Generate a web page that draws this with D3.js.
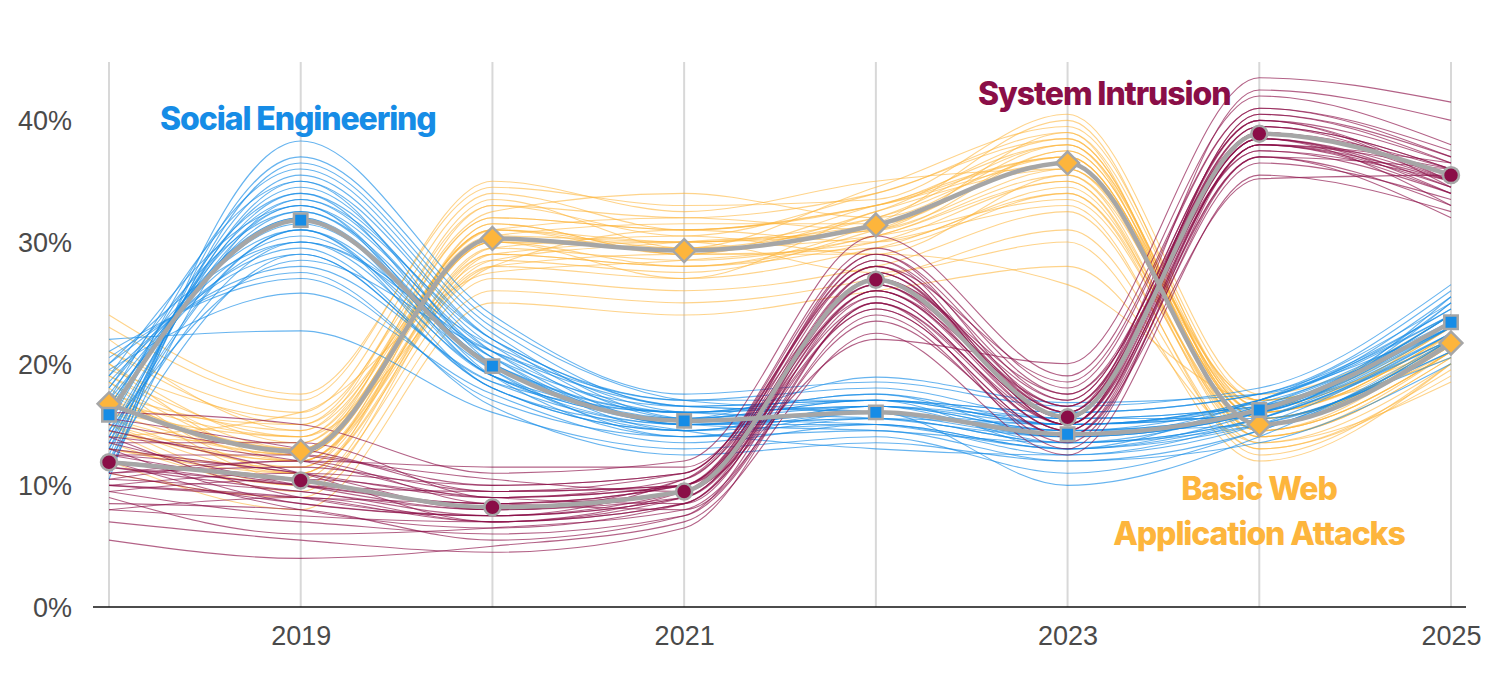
<!DOCTYPE html>
<html>
<head>
<meta charset="utf-8">
<script src="https://cdn.jsdelivr.net/npm/d3@7"></script>
<style>
    body { margin: 0; background: #fff; }
    .tick-label { font-family: "Liberation Sans", Arial, sans-serif; font-size: 27px; fill: #4a4a4a; }
    .grid { stroke: #d8d8d8; stroke-width: 2; }
    .sample { fill: none; stroke-width: 1.1; }
    .mean { fill: none; stroke: #a6a6a6; stroke-width: 4.5; }
    .series-label { font-family: Inter, "Liberation Sans", sans-serif; font-weight: 800; font-size: 32px; letter-spacing: -1.1px; }
</style>
</head>
<body>
<div id="chart"></div>
<script>

const years = [2018, 2019, 2020, 2021, 2022, 2023, 2024, 2025];
const yearLabels = [2019, 2021, 2023, 2025];
const yTicks = [0, 10, 20, 30, 40];

// Mean lines (percent)
const socialMean = [15.8, 31.8, 19.8, 15.3, 16.0, 14.2, 16.2, 23.4];
const webMean = [16.7, 12.8, 30.3, 29.3, 31.4, 36.5, 15.0, 21.7];
const intrusionMean = [11.9, 10.4, 8.2, 9.5, 26.9, 15.6, 38.9, 35.5];

// Individual sample lines (percent)
const socialSamples = [
    [14, 33, 21, 16, 17, 15, 17, 24],
    [17, 30, 19, 15, 16, 14, 16, 23],
    [12, 35, 22, 17, 18, 15.5, 16.5, 25],
    [19, 29, 18, 14.5, 15, 13, 15.5, 22],
    [21, 27, 17, 14, 15.5, 13.5, 15, 21],
    [11, 36.5, 23, 16.5, 17, 16, 17.5, 26],
    [16, 32, 20, 15.5, 16.5, 14.5, 16, 23.5],
    [13, 34, 21.5, 15, 15, 12.5, 15, 22.5],
    [18, 31, 19, 16, 17.5, 15, 17, 24.5],
    [22, 22.7, 16, 13, 14, 11, 14.5, 21],
    [15, 33.5, 20.5, 14.5, 16, 14, 16.5, 23],
    [10.5, 38.3, 24, 17.5, 18.5, 16.5, 18, 26.5],
    [20, 28, 18.5, 15, 15.5, 13.5, 15.5, 22],
    [14.5, 32.5, 20, 16, 16.5, 14.5, 17, 24],
    [17.5, 30.5, 19.5, 14, 14.5, 12, 14.5, 21.5],
    [12.5, 35.5, 22, 15.5, 17, 15, 16, 25],
    [19.5, 25.8, 17.5, 13.5, 15, 13, 15, 20.5],
    [16.5, 31.5, 20.5, 16.5, 17, 15.5, 16.5, 23.5],
    [13.5, 34.5, 21, 15, 16, 10, 14, 22],
    [18.5, 29.5, 18, 14.5, 13, 12.5, 15.5, 22.5],
    [15.5, 33, 19, 15.5, 18.9, 16.8, 17.5, 25.5],
    [11.5, 37, 23.5, 17, 16, 14, 16, 24],
    [20.5, 27.5, 16.5, 12.5, 13.5, 12, 13.5, 20],
    [14, 31, 20, 16, 16.5, 15, 16.8, 23],
    [13, 30, 21, 16.5, 16, 14.5, 16, 23],
    [16, 34, 19.5, 14.5, 16.5, 13.5, 15.5, 22.5],
    [18, 32.5, 20.5, 15, 15.5, 15, 16.5, 24],
    [12, 29, 18.5, 16, 17.5, 14, 17, 25],
    [15, 36, 22.5, 15.5, 15, 13, 16, 23],
    [19, 33, 19, 14, 16, 14.5, 15, 22],
    [14.5, 28.5, 21, 17, 17, 16, 17.5, 24.5],
    [17, 35, 20, 15, 14.5, 13.5, 16.5, 23.5],
    [13.5, 31, 18, 14.5, 16.5, 15.5, 15.5, 22],
    [20, 30, 21.5, 16, 15.5, 14, 16, 24],
    [16.5, 32, 19, 15.5, 17, 13, 17, 23],
    [11, 33.5, 22, 16.5, 16, 15, 16, 25.5]
];

const webSamples = [
    [17, 13, 31, 30, 32, 37, 15.5, 22],
    [15, 12, 29, 28, 30.5, 35, 14.5, 21],
    [19, 14, 32, 31, 33, 38, 16, 22.5],
    [13, 11, 28, 27, 29.5, 34, 14, 20.5],
    [21, 15, 33, 32, 34, 39, 16.5, 23],
    [24, 17.5, 34.5, 33, 33.5, 40.5, 17.5, 24],
    [11, 9, 26, 25, 27, 31, 13, 19],
    [16, 12.5, 30, 30, 31, 36, 15, 22],
    [18, 10.5, 31.5, 29, 32.5, 38.5, 15.5, 21.5],
    [14, 16, 27.5, 28.5, 30, 33, 12.5, 20],
    [20, 13.5, 30.5, 31.5, 31.5, 37.5, 16, 23.5],
    [12, 8, 25, 24, 26, 28, 13.5, 18.5],
    [22, 14.5, 33.5, 29.5, 34.5, 39.5, 17, 22],
    [15.5, 11.5, 29.5, 30.5, 29, 35.5, 14, 21],
    [17.5, 12, 28.5, 27.5, 31, 36.5, 15, 22.5],
    [19.5, 15.5, 32.5, 34, 32, 38, 16.5, 20.5],
    [13.5, 10, 27, 26, 28, 32.5, 13, 19.5],
    [16.5, 13, 31, 29, 33, 37, 15.5, 21.5],
    [23, 17, 35, 32.5, 35, 36, 17, 23],
    [14.5, 9.5, 29, 30, 27.5, 30, 12, 20],
    [18.5, 12.5, 30, 28, 31.5, 40, 16, 22],
    [16, 14, 28, 31, 30, 34.5, 14.5, 21],
    [15, 11, 28, 29, 29, 26.5, 17, 21.5],
    [17, 14, 30.5, 30, 31.5, 36.5, 15, 21.5],
    [15.5, 12.5, 31, 29.5, 32, 38, 14.5, 22],
    [18.5, 11, 29.5, 28.5, 30.5, 35.5, 16, 22.5],
    [14, 13.5, 32, 31, 33, 37, 15.5, 21],
    [20, 12, 28.5, 30, 31, 39, 14, 20.5],
    [16.5, 15, 30, 27, 32.5, 36, 16.5, 23],
    [13, 11.5, 31.5, 29, 29.5, 34, 15, 21.5],
    [19, 13, 33, 30.5, 34, 38.5, 15.5, 22],
    [15, 10, 29, 28, 30, 35, 13.5, 20],
    [17.5, 14.5, 31, 32, 31, 37.5, 16, 22.5],
    [21, 16, 34, 31, 33, 36.5, 17, 23.5],
    [14.5, 12, 30, 29.5, 30.5, 33.5, 14.5, 21]
];

const intrusionSamples = [
    [12, 10.5, 8, 9.5, 27, 15.5, 39, 35.5],
    [10, 9, 7, 8.5, 25.5, 14.5, 38, 34.5],
    [14, 12, 9, 10.5, 28.5, 17, 40, 36.5],
    [8, 7, 6, 7.5, 24, 13.5, 37, 33],
    [15.5, 13, 10, 11, 29.5, 18, 41, 37],
    [5.5, 4, 5, 7, 22.5, 12.5, 35.5, 32.5],
    [11, 11.5, 9.5, 10, 27.5, 16, 39.5, 36],
    [13, 8.5, 7.5, 9, 26, 15, 38.5, 34],
    [9, 6, 6.5, 8, 23.5, 14, 36.5, 33.5],
    [16, 15, 11, 12, 30.5, 19, 42, 38],
    [12.5, 10, 8.5, 10, 26.5, 16.5, 39, 35],
    [7, 5.5, 4.5, 6.5, 25, 13, 38, 34],
    [10.5, 12, 11.5, 11.5, 28, 15, 40.5, 36.5],
    [14.5, 11, 7, 8.5, 27, 17.5, 37.5, 35],
    [11.5, 9.5, 8, 9.5, 22, 20, 43.5, 41.5],
    [9.5, 7.5, 7, 9, 24.5, 14, 35.2, 35.5],
    [13.5, 13.5, 9, 10, 29, 16, 42.5, 40],
    [8.5, 8, 5.5, 7.5, 26, 15.5, 38.5, 33],
    [12, 10, 9.5, 11, 28, 18.5, 41, 37.5],
    [10, 9, 8.5, 8, 25, 14.5, 37, 32],
    [15, 12.5, 10.5, 9.5, 27.5, 16.5, 39.5, 35],
    [11, 8.5, 7.5, 10.5, 26.5, 15, 38, 36],
    [11.5, 10, 8.5, 9.5, 26.5, 16, 38.5, 35],
    [13, 11, 9, 10, 28, 15, 39.5, 36],
    [10.5, 9.5, 7.5, 9, 27, 17, 40, 34.5],
    [12.5, 11, 8, 10.5, 25.5, 14.5, 38, 36.5],
    [9.5, 10.5, 9, 8.5, 27.5, 15.5, 39, 35.5],
    [14, 9, 7.5, 9.5, 26, 16.5, 37.5, 34],
    [11, 12, 8.5, 10, 28.5, 15, 40.5, 37],
    [12, 8, 6.5, 8.5, 24.5, 14, 38, 35],
    [10, 11, 10, 11, 29, 17.5, 39, 36],
    [13.5, 10, 8, 9, 26, 15.5, 38.5, 34.5],
    [8, 9, 7, 9.5, 27, 16, 40, 35],
    [12.5, 12.5, 9.5, 10, 25, 15, 37, 36]
];

const series = [
    { name: "web", color: "#fdb53c", opacity: 0.6, mean: webMean, samples: webSamples, symbol: d3.symbolDiamond2 },
    { name: "social", color: "#168ce6", opacity: 0.65, mean: socialMean, samples: socialSamples, symbol: d3.symbolSquare2 },
    { name: "intrusion", color: "#8a0e47", opacity: 0.65, mean: intrusionMean, samples: intrusionSamples, symbol: d3.symbolCircle }
];

const width = 1500;
const height = 675;
const margin = { top: 62, right: 49, bottom: 68, left: 109 };

const svg = d3.select("#chart").append("svg")
    .attr("width", width)
    .attr("height", height);

const x = d3.scaleLinear()
    .domain([2018, 2025])
    .range([margin.left, width - margin.right]);

const y = d3.scaleLinear()
    .domain([0, 44.8])
    .range([height - margin.bottom, margin.top]);

const line = d3.line()
    .x((d, i) => x(years[i]))
    .y(d => y(d))
    .curve(d3.curveMonotoneX);

// Grid lines

svg.append("g")
    .selectAll("line")
    .data(years)
    .join("line")
    .attr("class", "grid")
    .attr("x1", d => x(d))
    .attr("x2", d => x(d))
    .attr("y1", margin.top)
    .attr("y2", y(0));

// Axes

const yAxis = svg.append("g")
    .attr("transform", `translate(${ margin.left - 37 },0)`)
    .call(d3.axisLeft(y).tickValues(yTicks).tickSize(0).tickFormat(d => d + "%"));
yAxis.select(".domain").remove();
yAxis.selectAll("text").attr("class", "tick-label").attr("dy", "0.35em").attr("x", 0);

const xAxis = svg.append("g")
    .attr("transform", `translate(0,${ y(0) })`)
    .call(d3.axisBottom(x).tickValues(yearLabels).tickSize(0).tickFormat(d3.format("d")));
xAxis.select(".domain").remove();
xAxis.selectAll("text").attr("class", "tick-label").attr("dy", "1.3em");

svg.append("line")
    .attr("x1", margin.left - 16)
    .attr("x2", width - 34)
    .attr("y1", y(0))
    .attr("y2", y(0))
    .attr("stroke", "#111")
    .attr("stroke-width", 1.5);

// Sample lines

series.forEach(s => {
    svg.append("g")
        .selectAll("path")
        .data(s.samples)
        .join("path")
        .attr("class", "sample")
        .attr("stroke", s.color)
        .attr("stroke-opacity", s.opacity)
        .attr("d", line);
});

// Mean lines and markers

series.forEach(s => {
    svg.append("path")
        .attr("class", "mean")
        .attr("d", line(s.mean));
});

series.forEach(s => {
    const size = s.name === "intrusion" ? 200 : (s.name === "web" ? 330 : 230);
    svg.append("g")
        .selectAll("path")
        .data(s.mean)
        .join("path")
        .attr("transform", (d, i) => `translate(${ x(years[i]) },${ y(d) })`)
        .attr("d", d3.symbol().type(s.symbol).size(size))
        .attr("fill", s.color)
        .attr("stroke", "#a6a6a6")
        .attr("stroke-width", 2.5);
});

// Series labels

const labels = [
    { text: "Social Engineering", x: 160, y: 130, anchor: "start", color: "#168ce6" },
    { text: "System Intrusion", x: 978, y: 105, anchor: "start", color: "#8a0e47" },
    { text: "Basic Web", x: 1259, y: 500, anchor: "middle", color: "#fdb53c" },
    { text: "Application Attacks", x: 1259, y: 545, anchor: "middle", color: "#fdb53c" }
];

svg.append("g")
    .selectAll("text")
    .data(labels)
    .join("text")
    .attr("class", "series-label")
    .attr("x", d => d.x)
    .attr("y", d => d.y)
    .attr("text-anchor", d => d.anchor)
    .attr("fill", d => d.color)
    .text(d => d.text);

</script>
</body>
</html>
